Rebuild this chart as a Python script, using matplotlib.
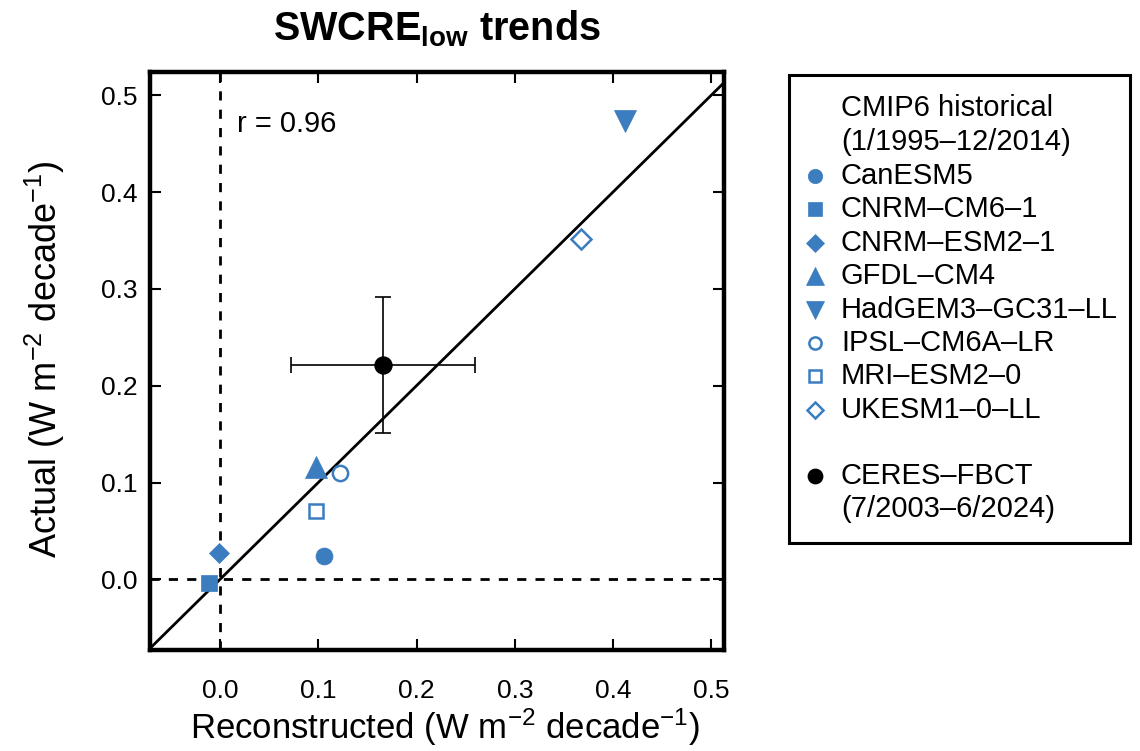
import matplotlib
matplotlib.use("Agg")
import matplotlib.pyplot as plt
from matplotlib.patches import Rectangle

plt.rcParams['font.family'] = ['Liberation Sans', 'DejaVu Sans']
plt.rcParams['mathtext.fontset'] = 'custom'
plt.rcParams['mathtext.rm'] = 'Liberation Sans'
plt.rcParams['mathtext.bf'] = 'Liberation Sans:bold'
plt.rcParams['mathtext.default'] = 'regular'

# ---- data ----
models = ["CanESM5", "CNRM-CM6-1", "CNRM-ESM2-1", "GFDL-CM4",
          "HadGEM3-GC31-LL", "IPSL-CM6A-LR", "MRI-ESM2-0", "UKESM1-0-LL"]
reconstructed = [0.106, -0.011, -0.001, 0.098, 0.412, 0.122, 0.098, 0.367]
actual = [0.024, -0.004, 0.027, 0.116, 0.473, 0.110, 0.071, 0.352]
markers = ["o", "s", "D", "^", "v", "o", "s", "D"]
filled = [True, True, True, True, True, False, False, False]
sizes = [12.2, 11.3, 10.5, 15.5, 15.5, 11.0, 10.2, 10.2]

obs_name = "CERES\u2013FBCT"
obs_x, obs_y = 0.166, 0.2215
obs_xerr, obs_yerr = 0.094, 0.0705
r_value = 0.96

xticks = [0.0, 0.1, 0.2, 0.3, 0.4, 0.5]
yticks = [0.0, 0.1, 0.2, 0.3, 0.4, 0.5]

blue = "#3b7dbf"

fig = plt.figure(figsize=(11.4, 7.51), dpi=100)
ax = fig.add_axes([150/1140, 1-650/751, (724-150)/1140, (650-72)/751])

xlim = (-0.0713, 0.513)
ylim = (-0.073, 0.524)
ax.set_xlim(*xlim)
ax.set_ylim(*ylim)

# reference lines
ax.axvline(0, color="black", lw=2.0, ls=(0, (3.3, 3.3)), zorder=1)
ax.axhline(0, color="black", lw=2.0, ls=(0, (3.3, 3.3)), zorder=1)
ax.plot([-1, 1], [-1, 1], color="black", lw=2.0, zorder=2)

for x, y, m, f, s in zip(reconstructed, actual, markers, filled, sizes):
    if f:
        ax.plot(x, y, marker=m, ms=s, color=blue, mec=blue, mew=0.5, ls="none", zorder=3)
    else:
        ax.plot(x, y, marker=m, ms=s, mfc="white", mec=blue, mew=1.8, ls="none", zorder=3)

ax.errorbar(obs_x, obs_y, xerr=obs_xerr, yerr=obs_yerr, fmt="o", color="black",
            ms=12.2, elinewidth=1.2, capsize=6, capthick=1.2, zorder=4)

ax.text(0.017, 0.47, f"r = {r_value:.2f}", fontsize=21, va="center", ha="left")

ax.set_xticks(xticks)
ax.set_yticks(yticks)
ax.set_xticklabels([f"{t:.1f}" for t in xticks], fontsize=19)
ax.set_yticklabels([f"{t:.1f}" for t in yticks], fontsize=19)
ax.tick_params(direction="in", length=8, width=1.5, top=True, right=True)
ax.tick_params(axis="x", pad=21)
ax.tick_params(axis="y", pad=9)
for sp in ax.spines.values():
    sp.set_linewidth(3.2)

ax.set_xlabel(r"Reconstructed (W m$^{-2}$ decade$^{-1}$)", fontsize=25)
ax.set_ylabel(r"Actual (W m$^{-2}$ decade$^{-1}$)", fontsize=26)
ax.xaxis.set_label_coords((445-150)/574, -(727-650)/578)
ax.yaxis.set_label_coords(-(150-45)/574, (650-359)/578)
ax.xaxis.label.set_va("center")
ax.yaxis.label.set_va("center")
ax.set_title(r"SWCRE$_{\mathbf{low}}$ trends", fontsize=28.5, fontweight="bold", pad=23)

# ---- legend ----
lax = fig.add_axes([789/1140, 1-543/751, (1130-789)/1140, (543-75)/751])
lax.set_xlim(789, 1130)
lax.set_ylim(543, 75)
lax.axis("off")
lax.add_patch(Rectangle((789, 75), 341, 468, fill=False, lw=2.2, ec="black",
                        clip_on=False))
tx, mx = 841, 815
fs = 21
lax.text(tx, 108, "CMIP6 historical", fontsize=fs, va="center", ha="left")
lax.text(tx, 142, "(1/1995\u201312/2014)", fontsize=fs, va="center", ha="left")
y0, dy = 176, 33.4
for i, (name, m, f, s) in enumerate(zip(models, markers, filled, sizes)):
    yy = y0 + i * dy
    lab = name.replace("-", "\u2013")
    if f:
        lax.plot(mx, yy, marker=m, ms=s * 0.85, color=blue, mec=blue, mew=0.5, ls="none")
    else:
        lax.plot(mx, yy, marker=m, ms=s * 0.8, mfc="white", mec=blue, mew=1.8, ls="none")
    lax.text(tx, yy, lab, fontsize=fs, va="center", ha="left")
lax.plot(mx, 476, marker="o", ms=12.2 * 0.85, color="black", ls="none")
lax.text(tx, 476, obs_name, fontsize=fs, va="center", ha="left")
lax.text(tx, 509, "(7/2003\u20136/2024)", fontsize=fs, va="center", ha="left")

fig.savefig("out.png", dpi=100)
